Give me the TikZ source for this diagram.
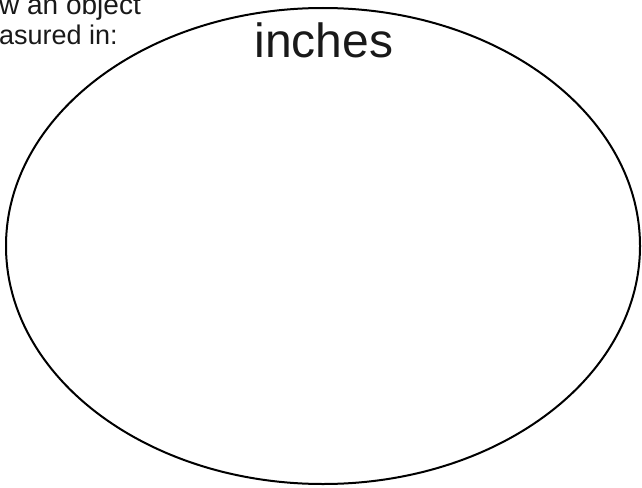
\documentclass[tikz,border=0pt]{standalone}
\usepackage{fontspec}
\usetikzlibrary{shapes.geometric}
\setmainfont{Liberation Sans}
\begin{document}
\begin{tikzpicture}[x=1pt,y=-1pt,
  lbl/.style={inner sep=0pt,anchor=base west,text=black!90}]
\useasboundingbox (0,0) rectangle (642,487);
\clip (0,0) rectangle (642,487);
\node[draw,line width=2pt,ellipse,minimum width=634pt,minimum height=476pt,inner sep=0pt] (e) at (323,246) {};
\node[lbl,font=\fontsize{28}{33}\selectfont] (t1) at (-1,15) {w an object};
\node[lbl,font=\fontsize{27}{32}\selectfont] (t2) at (-1,45) {asured in:};
\node[lbl,anchor=base,font=\fontsize{48}{56}\selectfont] (inch) at (324,58) {inches};
\end{tikzpicture}
\end{document}
